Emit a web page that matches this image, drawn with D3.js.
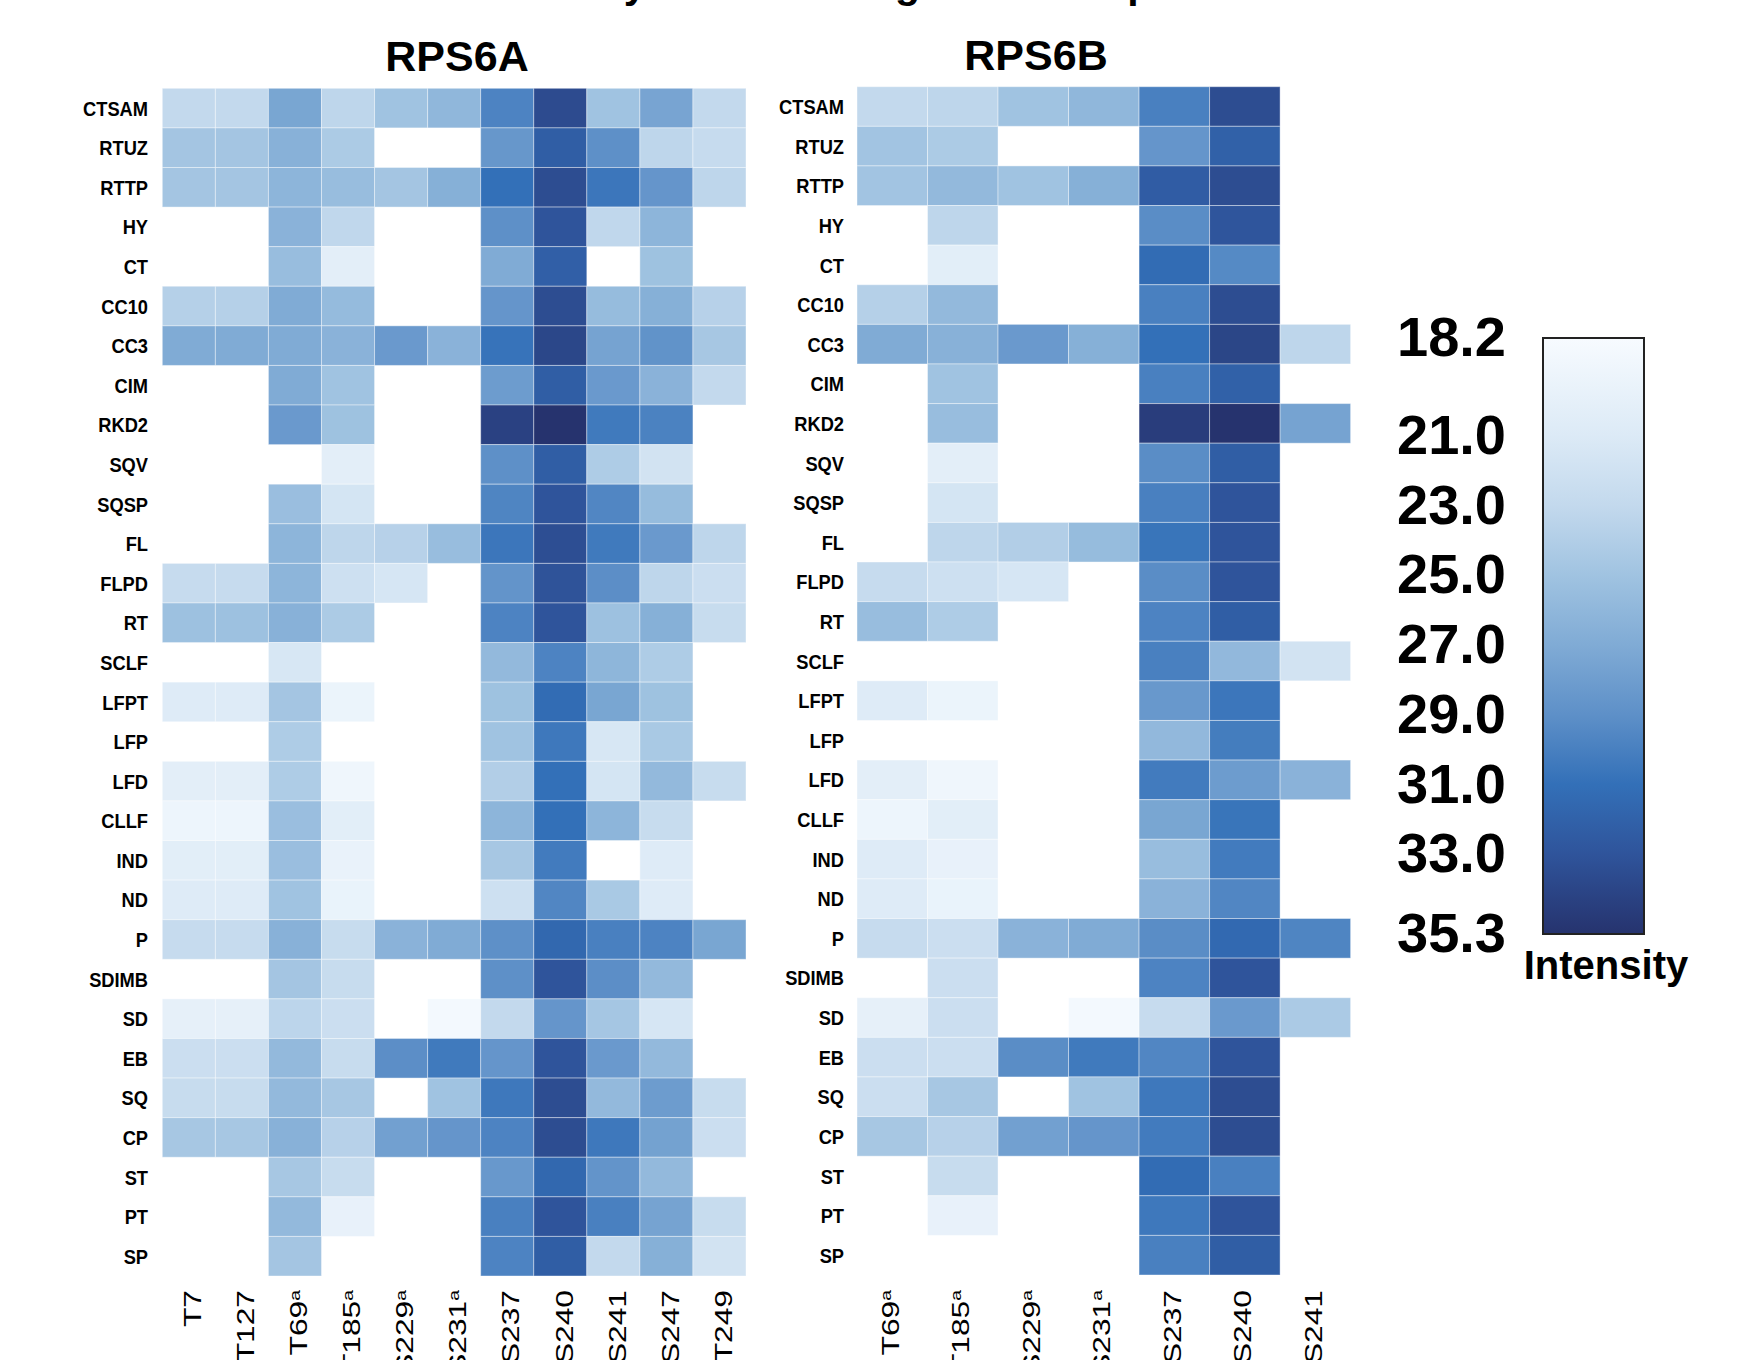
<!DOCTYPE html>
<html>
<head>
<meta charset="utf-8">
<script src="https://cdn.jsdelivr.net/npm/d3@7"></script>
<style>
  body { margin: 0; background: #fff; }
  svg text { font-family: "Liberation Sans", Arial, sans-serif; fill: #000; }
</style>
</head>
<body>
<svg id="chart" width="1743" height="1360"></svg>
<script>
var tissues = ["CTSAM","RTUZ","RTTP","HY","CT","CC10","CC3","CIM","RKD2","SQV","SQSP","FL","FLPD","RT",
  "SCLF","LFPT","LFP","LFD","CLLF","IND","ND","P","SDIMB","SD","EB","SQ","CP","ST","PT","SP"];

var sitesA = ["T7","T127","T69","T185","S229","S231","S237","S240","S241","S247","T249"];
var sitesB = ["T69","T185","S229","S231","S237","S240","S241"];
var annotated = ["T69","T185","S229","S231"];

// RPS6A intensities, one row per tissue (null = not detected)
var valuesA = [
  [23.0, 23.0, 27.4, 23.3, 25.0, 26.0, 29.8, 33.6, 25.0, 27.5, 23.0],
  [24.8, 24.8, 26.5, 24.3, null, null, 28.5, 32.3, 29.0, 23.3, 22.8],
  [24.8, 24.8, 26.2, 25.5, 24.8, 26.6, 31.0, 33.5, 30.6, 28.6, 23.3],
  [null, null, 26.4, 23.2, null, null, 29.0, 33.0, 23.2, 26.2, null],
  [null, null, 25.5, 20.3, null, null, 27.0, 32.2, null, 25.1, null],
  [23.8, 23.8, 27.0, 25.7, null, null, 28.6, 33.5, 25.6, 26.6, 23.7],
  [27.0, 27.0, 27.0, 26.4, 28.3, 26.4, 30.8, 33.9, 27.6, 28.8, 24.6],
  [null, null, 27.0, 25.0, null, null, 28.1, 32.3, 28.3, 26.4, 23.0],
  [null, null, 28.3, 25.1, null, null, 34.3, 35.3, 30.4, 29.9, null],
  [null, null, null, 20.3, null, null, 29.0, 32.3, 24.2, 21.8, null],
  [null, null, 25.4, 21.6, null, null, 29.7, 33.0, 29.6, 25.6, null],
  [null, null, 26.2, 23.3, 23.7, 25.5, 30.6, 33.4, 30.4, 28.3, 23.3],
  [22.8, 22.8, 26.2, 22.2, 21.5, null, 28.7, 33.1, 29.1, 23.3, 22.4],
  [25.2, 25.2, 26.5, 24.3, null, null, 29.8, 33.0, 25.2, 26.6, 22.7],
  [null, null, 21.4, null, null, null, 25.8, 29.8, 26.1, 24.2, null],
  [20.8, 20.8, 24.8, 19.4, null, null, 25.1, 31.3, 27.4, 25.1, null],
  [null, null, 24.2, null, null, null, 25.0, 30.5, 21.4, 24.5, null],
  [20.3, 20.3, 24.2, 19.0, null, null, 24.0, 31.0, 21.6, 25.8, 22.7],
  [19.2, 19.2, 25.4, 20.4, null, null, 26.2, 31.0, 26.2, 22.7, null],
  [20.4, 20.4, 25.4, 19.7, null, null, 24.6, 30.3, null, 20.8, null],
  [20.8, 20.8, 25.0, 19.6, null, null, 22.2, 29.6, 24.5, 20.8, null],
  [22.8, 22.8, 26.5, 22.7, 26.4, 27.0, 29.0, 31.6, 30.0, 29.8, 27.4],
  [null, null, 24.8, 22.7, null, null, 29.0, 33.0, 29.1, 25.8, null],
  [20.0, 20.0, 23.4, 22.4, null, 18.6, 23.0, 28.6, 24.7, 21.5, null],
  [22.4, 22.4, 25.8, 22.7, 29.1, 30.4, 28.6, 33.0, 28.3, 25.8, null],
  [22.7, 22.7, 25.8, 24.6, null, 25.0, 30.5, 33.5, 25.8, 28.1, 22.7],
  [24.6, 24.6, 26.5, 23.7, 27.8, 28.6, 29.8, 33.5, 30.5, 27.7, 22.4],
  [null, null, 24.6, 22.7, null, null, 28.4, 31.6, 28.7, 25.8, null],
  [null, null, 25.8, 19.8, null, null, 30.0, 33.0, 30.0, 27.6, 22.7],
  [null, null, 24.8, null, null, null, 29.8, 32.3, 23.0, 26.6, 21.8]
];

// RPS6B intensities
var valuesB = [
  [23.0, 23.3, 25.0, 26.0, 30.0, 33.5, null],
  [24.9, 24.3, null, null, 28.6, 32.1, null],
  [24.9, 25.8, 25.0, 26.6, 32.4, 33.5, null],
  [null, 23.3, null, null, 29.2, 32.9, null],
  [null, 20.4, null, null, 31.3, 29.4, null],
  [23.8, 25.8, null, null, 30.0, 33.5, null],
  [27.0, 26.5, 28.3, 26.6, 31.0, 34.0, 23.3],
  [null, 25.0, null, null, 30.0, 32.1, null],
  [null, 25.5, null, null, 34.6, 35.3, 27.6],
  [null, 20.3, null, null, 29.2, 32.3, null],
  [null, 21.6, null, null, 30.0, 33.0, null],
  [null, 23.3, 24.0, 25.6, 30.7, 33.0, null],
  [22.8, 22.2, 21.5, null, 29.2, 33.0, null],
  [25.5, 24.2, null, null, 29.8, 32.3, null],
  [null, null, null, null, 30.0, 25.9, 21.8],
  [20.8, 19.4, null, null, 28.4, 30.6, null],
  [null, null, null, null, 25.9, 30.2, null],
  [20.3, 19.0, null, null, 30.3, 28.1, 26.4],
  [19.2, 20.4, null, null, 27.4, 30.7, null],
  [20.8, 19.8, null, null, 25.5, 30.3, null],
  [20.8, 19.6, null, null, 26.4, 29.6, null],
  [22.8, 22.4, 26.4, 27.0, 29.2, 31.5, 29.7],
  [null, 22.4, null, null, 29.8, 33.0, null],
  [20.0, 22.4, null, 18.6, 22.8, 28.3, 24.4],
  [22.4, 22.4, 29.2, 30.4, 29.6, 33.0, null],
  [22.4, 24.6, null, 25.0, 30.5, 33.5, null],
  [24.6, 23.7, 27.8, 28.6, 30.3, 33.5, null],
  [null, 22.7, null, null, 31.3, 30.0, null],
  [null, 19.8, null, null, 30.5, 33.0, null],
  [null, null, null, null, 30.0, 32.3, null]
];

var legendTicks = [18.2, 21.0, 23.0, 25.0, 27.0, 29.0, 31.0, 33.0, 35.3];
var colorStops = ["#f7fbff","#dceaf6","#c3d9ed","#a0c3e1","#80abd5","#5e90c8","#3370b8","#2f549b","#26336e"];

var svg = d3.select("#chart");

var color = d3.scaleLinear()
    .domain(legendTicks)
    .range(colorStops)
    .interpolate(d3.interpolateRgb);

// cut-off figure title (only its descenders reach into the picture)
svg.append("text")
    .attr("x", 478)
    .attr("y", -2)
    .style("font-size", "41px")
    .style("font-weight", "bold")
    .text("Intensity Values in Organ Heatmap");

function drawPanel(opts) {
  var x = d3.scaleBand().domain(opts.sites).range([opts.x0, opts.x1]);
  var y = d3.scaleBand().domain(tissues).range([opts.y0, opts.y1]);

  var g = svg.append("g").attr("class", "panel");

  g.append("text")
      .attr("x", opts.titleX)
      .attr("y", opts.titleY)
      .attr("text-anchor", "middle")
      .style("font-size", "43px")
      .style("font-weight", "bold")
      .text(opts.title);

  var cells = [];
  opts.values.forEach(function(row, i) {
    row.forEach(function(v, j) {
      if (v !== null) cells.push({ tissue: tissues[i], site: opts.sites[j], value: v });
    });
  });

  g.append("g").selectAll("rect")
    .data(cells)
    .enter().append("rect")
      .attr("x", function(d) { return x(d.site); })
      .attr("y", function(d) { return y(d.tissue); })
      .attr("width", x.bandwidth())
      .attr("height", y.bandwidth())
      .attr("fill", function(d) { return color(d.value); })
      .attr("stroke", "#fff")
      .attr("stroke-opacity", 0.4)
      .attr("stroke-width", 1);

  // row labels, bold and a little condensed
  g.append("g").selectAll("text")
    .data(tissues)
    .enter().append("text")
      .attr("transform", function(d) {
        return "translate(" + opts.labelX + "," + (y(d) + y.bandwidth() / 2) + ") scale(0.87,1)";
      })
      .attr("dy", "0.36em")
      .attr("text-anchor", "end")
      .style("font-size", "21px")
      .style("font-weight", "bold")
      .text(function(d) { return d; });

  // site labels, rotated and stretched
  var lab = g.append("g").selectAll("text")
    .data(opts.sites)
    .enter().append("text")
      .attr("transform", function(d) {
        return "translate(" + (x(d) + x.bandwidth() / 2 + opts.labelShift) + ",1290) rotate(-90) scale(1.38,1)";
      })
      .attr("dy", "0.36em")
      .attr("text-anchor", "end")
      .style("font-size", "23px");

  lab.append("tspan").text(function(d) { return d; });
  lab.filter(function(d) { return annotated.indexOf(d) >= 0; })
    .append("tspan")
      .attr("dy", "-0.55em")
      .style("font-size", "14px")
      .text("a");
}

drawPanel({
  title: "RPS6A", titleX: 457, titleY: 71,
  sites: sitesA, values: valuesA,
  x0: 162.3, x1: 746, y0: 88.3, y1: 1276,
  labelX: 148, labelShift: 4
});

drawPanel({
  title: "RPS6B", titleX: 1036, titleY: 70,
  sites: sitesB, values: valuesB,
  x0: 857, x1: 1350.6, y0: 86.7, y1: 1275,
  labelX: 844, labelShift: -2
});

// colour legend
var legendY = d3.scaleLinear().domain([18.2, 35.3]).range([338, 934]);

var grad = svg.append("defs").append("linearGradient")
    .attr("id", "legend-grad")
    .attr("x1", 0).attr("y1", 0).attr("x2", 0).attr("y2", 1);

grad.selectAll("stop")
  .data(legendTicks)
  .enter().append("stop")
    .attr("offset", function(d) { return (d - 18.2) / (35.3 - 18.2); })
    .attr("stop-color", function(d) { return color(d); });

svg.append("rect")
    .attr("x", 1543)
    .attr("y", legendY(18.2))
    .attr("width", 101)
    .attr("height", legendY(35.3) - legendY(18.2))
    .attr("fill", "url(#legend-grad)")
    .attr("stroke", "#222")
    .attr("stroke-width", 2);

var legendAxis = svg.append("g")
    .attr("transform", "translate(1543,0)")
    .call(d3.axisLeft(legendY)
      .tickValues(legendTicks)
      .tickFormat(d3.format(".1f"))
      .tickSize(0)
      .tickPadding(37));

legendAxis.select(".domain").remove();
legendAxis.selectAll("text")
    .style("font-family", "'Liberation Sans', Arial, sans-serif")
    .style("font-size", "56px")
    .style("font-weight", "bold")
    .attr("fill", "#000");

svg.append("text")
    .attr("x", 1606)
    .attr("y", 979)
    .attr("text-anchor", "middle")
    .style("font-size", "40px")
    .style("font-weight", "bold")
    .text("Intensity");
</script>
</body>
</html>
